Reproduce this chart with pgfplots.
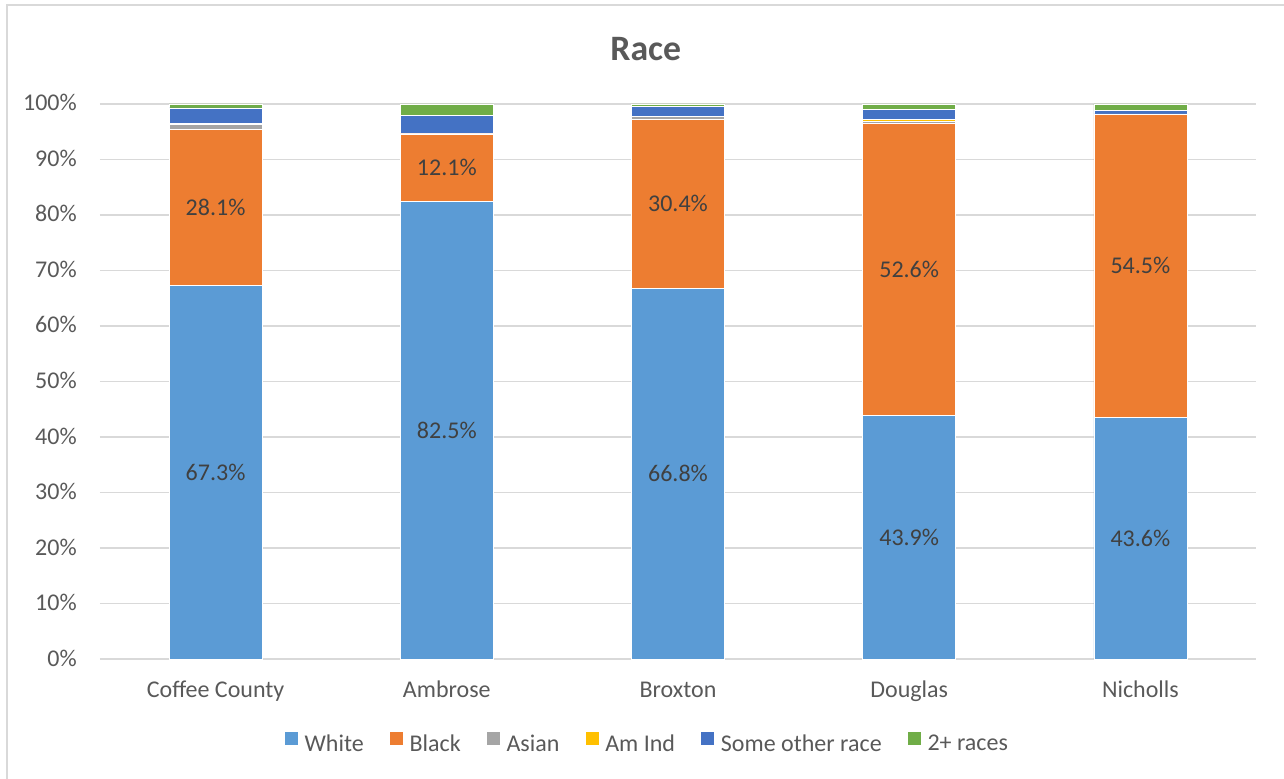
\documentclass[border=0pt]{standalone}
\usepackage{pgfplots}
\usepackage{pgfplotstable}
\pgfplotsset{compat=1.18}
\usepackage{fontspec}
\setmainfont{Carlito}

\definecolor{cWhite}{HTML}{5B9BD5}
\definecolor{cBlack}{HTML}{ED7D31}
\definecolor{cAsian}{HTML}{A5A5A5}
\definecolor{cAmInd}{HTML}{FFC000}
\definecolor{cOther}{HTML}{4472C4}
\definecolor{cMulti}{HTML}{70AD47}
\definecolor{txt}{HTML}{595959}
\definecolor{lbltxt}{HTML}{404040}
\definecolor{gridc}{HTML}{D9D9D9}

% Share of each race by place (percent)
\pgfplotstableread{
idx white black asian amind other multi
0   67.3  28.1  0.9   0.2   2.8   0.7
1   82.5  12.1  0.1   0.0   3.3   2.0
2   66.8  30.4  0.5   0.1   1.8   0.4
3   43.9  52.6  0.4   0.3   1.8   1.0
4   43.6  54.5  0.1   0.0   0.6   1.2
}\racedata

\newcommand\labelfont{\fontsize{18}{21}\selectfont}

% value labels, centred in their segments
\pgfplotsset{
  seglabel/.style={
    nodes near coords={\pgfmathprintnumber[fixed,fixed zerofill,precision=1]{\pgfplotspointmeta}\%},
    point meta=rawy,
    every node near coord/.append style={anchor=center, inner sep=0pt,
      font=\labelfont, text=lbltxt},
  },
}

\begin{document}
\begin{tikzpicture}
\path[use as bounding box] (-75pt,-89.25pt) rectangle (888pt,494.25pt);
\draw[color=gridc, line width=1pt] (-69.75pt,-95pt) -- (-69.75pt,490.5pt) -- (895pt,490.5pt);
\begin{axis}[
  at={(0pt,0pt)}, anchor=south west,
  scale only axis, width=867pt, height=416.25pt,
  ybar stacked, bar width=69.75pt,
  xmin=-0.5, xmax=4.5, ymin=0, ymax=100,
  enlargelimits=false,
  xtick={0,1,2,3,4},
  xticklabels={Coffee County,Ambrose,Broxton,Douglas,Nicholls},
  ytick={0,10,...,100},
  yticklabel={\pgfmathprintnumber{\tick}\%},
  /pgf/number format/assume math mode=true,
  ymajorgrids, grid style={color=gridc, line width=1pt},
  axis line style={draw=none},
  major tick length=0pt,
  ticklabel style={font=\labelfont, text=txt},
  yticklabel style={anchor=base east, inner sep=0pt, xshift=-17.25pt, yshift=-5.25pt},
  xticklabel style={anchor=base, inner sep=0pt, yshift=-28.7pt},
  legend columns=6,
  legend image code/.code={\fill[#1] (0pt,-0.5pt) rectangle (10.5pt,10pt);},
  legend style={at={(0.4723,-0.1495)}, anchor=center, draw=none, fill=none,
    font=\labelfont, text=txt, column sep=4.5pt,
    /tikz/every even column/.append style={column sep=19pt},
    nodes={inner sep=0pt}},
  every axis plot/.append style={draw=white, line width=0.4pt},
]
\addplot[fill=cWhite, seglabel] table[x=idx, y=white] {\racedata};
\addplot[fill=cBlack, seglabel] table[x=idx, y=black] {\racedata};
\addplot[fill=cAsian] table[x=idx, y=asian] {\racedata};
\addplot[fill=cAmInd] table[x=idx, y=amind] {\racedata};
\addplot[fill=cOther] table[x=idx, y=other] {\racedata};
\addplot[fill=cMulti] table[x=idx, y=multi] {\racedata};
\legend{White,Black,Asian,Am Ind,Some other race,2+ races}
\end{axis}
\node[anchor=base, font=\fontsize{26.8}{32}\selectfont\bfseries, text=txt] at (409.3pt,448.7pt) {Race};
\end{tikzpicture}
\end{document}
